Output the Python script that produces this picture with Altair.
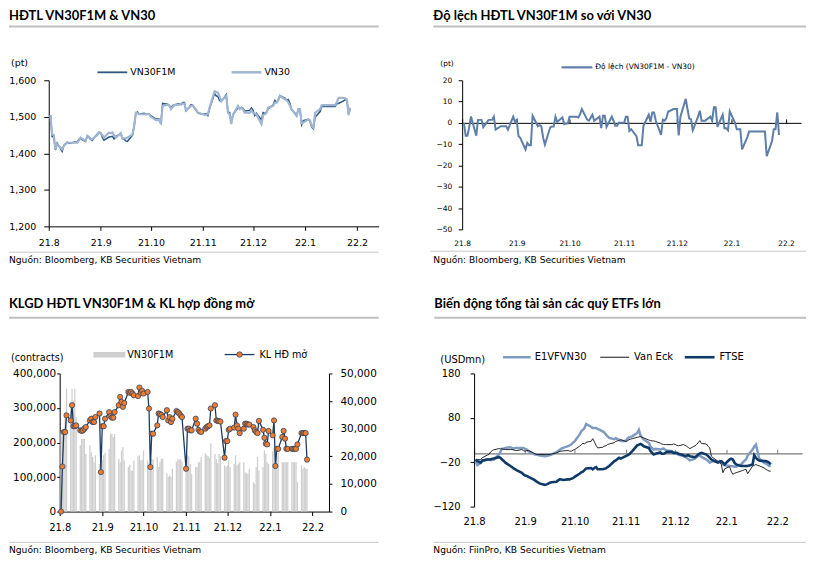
import altair as alt
import pandas as pd

FONT = "DejaVu Sans"
TFONT = "Lato"

# trading days Aug 2, 2021 .. Jan 28, 2022
DATES = pd.bdate_range("2021-08-02", "2022-01-28").strftime("%Y-%m-%d").tolist()

VN30 = [
    1505, 1452, 1450, 1411, 1425, 1411, 1420, 1425, 1429, 1429,
    1429, 1430, 1429, 1435, 1443, 1434, 1448, 1445, 1440, 1439,
    1450, 1457, 1455, 1450, 1443, 1457, 1455, 1457, 1450, 1443,
    1455, 1441, 1441, 1441, 1443, 1452, 1475, 1511, 1510, 1507,
    1507, 1507, 1507, 1507, 1500, 1491, 1491, 1491, 1480, 1530,
    1533, 1530, 1521, 1527, 1532, 1533, 1536, 1536, 1536, 1518,
    1530, 1530, 1525, 1520, 1511, 1507, 1505, 1506, 1507, 1525,
    1570, 1568, 1566, 1555, 1543, 1557, 1511, 1507, 1480, 1505,
    1530, 1521, 1525, 1521, 1511, 1511, 1518, 1511, 1509, 1507,
    1480, 1505, 1507, 1511, 1525, 1530, 1539, 1539, 1545, 1557,
    1548, 1545, 1540, 1530, 1521, 1502, 1521, 1521, 1482, 1484,
    1493, 1490, 1475, 1470, 1511, 1521, 1532, 1532, 1532, 1532,
    1532, 1532, 1532, 1540, 1552, 1552, 1550, 1548, 1505, 1525]

VN30F1M = [
    1505, 1446, 1444, 1409, 1428, 1405, 1421.4, 1426.4, 1430.4, 1427,
    1430.4, 1431.4, 1430.4, 1437.9, 1439.8, 1432.4, 1446.4, 1443.4, 1438.4, 1435.8,
    1452.9, 1457.5, 1456.4, 1443.8, 1436, 1444.5, 1445.6, 1446.5, 1439.5, 1446.3,
    1453.4, 1439.9, 1439.4, 1434, 1432.8, 1449.8, 1473.3, 1509.3, 1512.9, 1507.5,
    1509.5, 1506.4, 1506.7, 1506.7, 1502.9, 1493.9, 1493.9, 1493.5, 1484, 1536.5,
    1534.5, 1531, 1523.4, 1530.8, 1533, 1535.9, 1533.5, 1539.3, 1539.3, 1516.1,
    1532.9, 1531, 1523.6, 1518.6, 1511, 1507, 1507.9, 1508.9, 1503.2, 1522,
    1563.8, 1557.5, 1555.5, 1544.5, 1541.6, 1560.8, 1511.5, 1511.9, 1484.9, 1506,
    1524.3, 1522.4, 1526, 1523.2, 1516.2, 1517.5, 1524.5, 1517.5, 1503.1, 1509.9,
    1491.3, 1511.5, 1509, 1512.7, 1521.5, 1532.9, 1544.7, 1540, 1546, 1558,
    1550.9, 1546, 1547.3, 1537.3, 1519.1, 1505.8, 1518.5, 1518.5, 1478.5, 1489.4,
    1493, 1487, 1472, 1467, 1498.5, 1514.3, 1527.9, 1527.9, 1527.9, 1527.9,
    1527.9, 1527.9, 1527.9, 1535.9, 1536.3, 1543.4, 1547, 1545, 1509.9, 1519.3]

DIFF = [
    0, -6, -6, -2, 3, -6, 1.4, 1.4, 1.4, -2,
    1.4, 1.4, 1.4, 2.9, -3.2, -1.6, -1.6, -1.6, -1.6, -3.2,
    2.9, 0.5, 1.4, -6.2, -7, -12.5, -9.4, -10.5, -10.5, 3.3,
    -1.6, -1.1, -1.6, -7, -10.2, -2.2, -1.7, -1.7, 2.9, 0.5,
    2.5, -0.6, -0.3, -0.3, 2.9, 2.9, 2.9, 2.5, 4, 6.5,
    1.5, 1, 2.4, 3.8, 1, 2.9, -2.5, 3.3, 3.3, -1.9,
    2.9, 1, -1.4, -1.4, 0, 0, 2.9, 2.9, -3.8, -3,
    -6.2, -10.5, -10.5, -10.5, -1.4, 3.8, 0.5, 4.9, 4.9, 1,
    -5.7, 1.4, 1, 2.2, 5.2, 6.5, 6.5, 6.5, -5.9, 2.9,
    11.3, 6.5, 2, 1.7, -3.5, 2.9, 5.7, 1, 1, 1,
    2.9, 1, 7.3, 7.3, -1.9, 3.8, -2.5, -2.5, -3.5, 5.4,
    0, -3, -3, -3, -12.5, -6.7, -4.1, -4.1, -4.1, -4.1,
    -4.1, -4.1, -4.1, -4.1, -15.7, -8.6, -3, -3, 4.9, -5.7]

VOLUME = [
    230000, 225000, 230000, 290000, 356000, 300000, 356000, 322000, 356000, 274000,
    192000, 211000, 211000, 211000, 167000, 192000, 172000, 158000, 143000, 163000,
    138000, 148000, 150000, 163000, 170000, 182000, 225000, 225000, 216000, 225000,
    153000, 143000, 177000, 187000, 148000, 129000, 135000, 119000, 119000, 148000,
    160000, 163000, 148000, 150000, 177000, 148000, 140000, 129000, 153000, 150000,
    158000, 129000, 143000, 153000, 153000, 110000, 100000, 105000, 100000, 124000,
    145000, 153000, 150000, 152000, 145000, 129000, 163000, 160000, 138000, 109000,
    129000, 129000, 143000, 143000, 158000, 169000, 163000, 160000, 155000, 198000,
    167000, 153000, 140000, 167000, 160000, 134000, 130000, 134000, 148000, 129000,
    138000, 163000, 134000, 138000, 143000, 143000, 114000, 110000, 110000, 124000,
    85000, 80000, 129000, 158000, 119000, 129000, 177000, 167000, 143000, 138000,
    175000, 180000, 140000, 160000, 170000, 143000, 143000, 143000, 143000, 143000,
    143000, 143000, 143000, 143000, 85000, 134000, 124000, 129000, 124000, 124000]

OPEN_INTEREST = [
    0, 16300, 28800, 28800, 34800, 33000, 38500, 30900, 30900, 31200,
    29400, 29200, 29400, 30000, 30600, 33000, 33600, 32400, 32400, 34200,
    35500, 14300, 30900, 30900, 33600, 36000, 34500, 34000, 34000, 36000,
    38500, 41500, 39700, 37900, 39300, 43300, 43000, 43300, 42700, 42100,
    41800, 44900, 43000, 43700, 42700, 43300, 37300, 16100, 28200, 28200,
    31200, 35500, 35300, 35000, 34200, 36700, 33000, 34200, 32400, 33600,
    36400, 36000, 35500, 34800, 34200, 15500, 30000, 30000, 29400, 29400,
    33600, 31800, 29600, 29000, 28800, 30000, 30600, 30900, 31200, 37300,
    38500, 33000, 32800, 32700, 32600, 19500, 25500, 25500, 29600, 30000,
    30400, 35100, 31200, 30000, 28400, 30000, 31800, 31800, 31500, 31500,
    30600, 29400, 28800, 28400, 32800, 29600, 26700, 24600, 24300, 29200,
    27600, 33000, 16500, 22700, 22700, 27000, 29200, 26400, 22700, 22700,
    22700, 22700, 22700, 22700, 24300, 28400, 28400, 28400, 28400, 18800]

E1VFVN30 = [
    -18, -26.5, -24, -21, -18, -14, -14, -15, -15, -14,
    -2.7, 3, 10.7, 11, 12.2, 13.7, 12, 10.7, 12, 12.2,
    12.2, 12, 10, 8.5, 4.8, -1, -2.7, -2.7, -4, -5,
    -6.4, -6, -5, -4, -2.7, 3, 4.8, 8, 10.7, 12.2,
    16, 18, 19.7, 24, 27, 42, 49.5, 53, 57, 66,
    60, 57, 57, 57, 55, 49.5, 47, 42, 38, 34.6,
    32, 34, 32, 30.8, 28, 28, 33, 36, 37, 38.3,
    45.8, 53, 40.5, 35, 30.8, 23.4, 16, 12, 8.5, 10,
    8.5, 10, 10.7, 8, 6.3, 5, 1, 0, -1, -2.7,
    -6.4, -8, -10, -13, -16, -12, -8.7, -6, -5, -8,
    -14, -17, -21, -19, -17.6, -20, -17.6, -21, -25, -27,
    -28.6, -28.6, -29, -30, -30, -25, -21, -17, -14, -5,
    8.5, 15, 19.7, 4.8, -11.8, -21, -23, -25, -28.6, -28.6]

VAN_ECK = [
    -14, -14, -14, -14, -10, -4, -2.7, 3, 6.3, 8,
    10.7, 10, 10, 9, 8.5, 8.5, 8.5, 7.5, 6.3, 6.3,
    8.5, 6, 4.8, 6.3, 6.3, 1, -1, -2.7, -2.7, -2.7,
    -2.7, -2.7, -2.7, -2.7, -1.5, 1, 2.5, 4.8, 4.8, 5.5,
    6.3, 5, 4.8, 7, 8.5, 16, 19, 23, 21, 25,
    27, 33, 26, 18, 12.2, 13.7, 16, 17, 19.7, 21,
    24, 27, 28, 29, 30.8, 27, 28, 30.8, 32, 33,
    36, 37, 38, 36, 34.6, 30, 29, 28, 28, 27,
    23, 21, 20, 19.7, 19.7, 19.7, 21, 20, 18, 17,
    19.7, 18, 16, 13, 10.7, 17, 19.7, 24, 28.6, 22,
    21, 16, 12.2, -6.4, -10, -17.6, -20, -25, -43.6, -35,
    -30, -40, -47.4, -45, -43.6, -40, -38.5, -37, -36, -46,
    -28.6, -27, -25, -27, -28, -33, -36, -38, -40, -40]

FTSE = [
    -14, -17.6, -19, -21, -16, -14, -14, -14, -12, -11.8,
    -8.7, -10, -14, -17, -21, -28.6, -31, -34, -36, -38.5,
    -44, -47.4, -50, -51, -53, -58.6, -61, -64, -66, -68.3,
    -71, -70, -68, -66, -65, -64, -61, -58.6, -59, -60,
    -58.6, -58.6, -57, -56, -53, -46, -43, -41.5, -38, -34,
    -33, -36, -33, -31, -36, -36, -35, -34, -31, -28.6,
    -18, -16, -13, -10, -12, -6.4, -4.5, -2.7, 1, 4.8,
    18, 19.7, 21, 19, 16, 12.2, 6, 1, -2.7, -1,
    2, -1, -1, 1, 3.3, 3.3, 1, 1, 1, -1,
    -4.2, -6.4, -5, -4.2, -6.4, -8.7, -6, -2.7, 0, 1,
    -2.7, -6.4, -10, -14, -16, -21, -19, -17.6, -21, -25,
    -14, -12, -14, -21, -25, -28.6, -28.6, -28.6, -28.6, -28.6,
    -25, -4.2, -10, -14, -16, -17.6, -17.6, -19, -21, -25]

MONTH_STARTS = ["2021-08-01", "2021-09-01", "2021-10-01", "2021-11-01",
                "2021-12-01", "2022-01-01", "2022-02-01"]

df = pd.DataFrame({
    "date": DATES, "vn30": VN30, "f1m": VN30F1M, "diff": DIFF,
    "vol": VOLUME, "oi": OPEN_INTEREST,
    "e1": E1VFVN30, "ve": VAN_ECK, "ftse": FTSE,
})
ticks_df = pd.DataFrame({"date": MONTH_STARTS})
ONE = pd.DataFrame({"k": [0]})


def dt(y, m, d, h=0):
    return alt.DateTime(year=y, month=m, date=d, hours=h, utc=True)


MONTHS = [dt(2021, 8, 1), dt(2021, 9, 1), dt(2021, 10, 1), dt(2021, 11, 1),
          dt(2021, 12, 1), dt(2022, 1, 1), dt(2022, 2, 1)]


def xscale(end, rng=None):
    if rng is None:
        return alt.Scale(type="utc", domain=[dt(2021, 8, 1), end], padding=0)
    return alt.Scale(type="utc", domain=[dt(2021, 8, 1), end], range=rng, padding=0)


def txt(s, x, y, size, font=FONT, weight="normal", baseline="middle"):
    return alt.Chart(ONE).mark_text(
        text=s, align="left", baseline=baseline, font=font, fontSize=size,
        fontWeight=weight, color="#000"
    ).encode(x=alt.value(x), y=alt.value(y))


def hline(x1, x2, y, color, w):
    return alt.Chart(ONE).mark_rule(color=color, strokeWidth=w).encode(
        x=alt.value(x1), x2=alt.value(x2), y=alt.value(y))


def xaxis(size, pad, domain=True, ticks=True, tick=4):
    return alt.Axis(values=MONTHS, format="%y.%-m", labelFontSize=size,
                    labelPadding=pad, domain=domain, ticks=ticks, tickSize=tick,
                    labelFlush=False, labelOverlap=False)


C_F1M = "#2a5783"
C_VN30 = "#9fb5d2"
C_DIFF = "#5d7ea8"
C_BAR = "#cfcfcf"
C_OI = "#1c3b63"
C_DOT = "#ed7d31"
C_E1 = "#7f9bc2"
C_VE = "#111111"
C_FT = "#0f3a68"
C_UL = "#bfbfbf"
C_SRC = "#c8c8c8"
NUM = ",.0f"

# ---------------- Panel A ----------------
scA = xscale(dt(2022, 2, 14))
xA = alt.X("date:T", scale=scA, axis=xaxis(9.5, 7), title=None)
ysA = alt.Scale(domain=[1200, 1600], zero=False, nice=False)
yaxA = alt.Axis(values=[1200, 1300, 1400, 1500, 1600], format=NUM,
                labelFontSize=9.5, tickSize=5, labelPadding=8)
lineF = alt.Chart(df).mark_line(color=C_F1M, strokeWidth=1.5).encode(
    x=xA, y=alt.Y("f1m:Q", scale=ysA, axis=yaxA, title=None))
lineV = alt.Chart(df).mark_line(color=C_VN30, strokeWidth=2.2).encode(
    x=xA, y=alt.Y("vn30:Q", scale=ysA, axis=yaxA, title=None))
panelA = alt.layer(
    lineF, lineV,
    txt("HĐTL VN30F1M & VN30", -40, -71, 13, TFONT, "bold", "top"),
    hline(-40, 332, -54, C_UL, 2),
    txt("(pt)", -38, -17, 9.5),
    hline(49, 79, -8, C_F1M, 1.8), txt("VN30F1M", 82, -8, 9.5),
    hline(184, 214, -8, C_VN30, 2.5), txt("VN30", 217, -8, 9.5),
    hline(-40, 332, 173, C_SRC, 1),
    txt("Nguồn: Bloomberg, KB Securities Vietnam", -40, 181, 9.2),
).properties(width=332, height=147)

# ---------------- Panel B ----------------
scB = xscale(dt(2022, 2, 9, 12))
lineB = alt.Chart(df).mark_line(color=C_DIFF, strokeWidth=2).encode(
    x=alt.X("date:T", scale=scB, axis=xaxis(7.5, 10, domain=False, ticks=False), title=None),
    y=alt.Y("diff:Q", scale=alt.Scale(domain=[-50, 20], zero=False, nice=False),
            axis=alt.Axis(values=[-50, -40, -30, -20, -10, 0, 10, 20],
                          labelFontSize=7.5, tickSize=4, labelPadding=6.5),
            title=None))
zeroB = alt.Chart(ticks_df).mark_rule(opacity=0).encode(
    x=alt.X("date:T", scale=scB,
            axis=alt.Axis(orient="top", offset=-150 * 20 / 70, values=MONTHS,
                          labels=False, tickSize=4),
            title=None))
panelB = alt.layer(
    lineB, zeroB,
    txt("Độ lệch HĐTL VN30F1M so với VN30", -29, -71, 13, TFONT, "bold", "top"),
    hline(-29, 346, -54, C_UL, 2),
    txt("(pt)", -22, -16, 7.5),
    hline(100, 131, -13, C_DIFF, 2.2),
    txt("Độ lệch (VN30F1M - VN30)", 134, -13, 7.5),
    hline(-32, 346, 172, C_SRC, 1),
    txt("Nguồn: Bloomberg, KB Securities Vietnam", -29, 181, 9.2),
).resolve_axis(x="independent").properties(width=341, height=150)

# ---------------- Panel C ----------------
scC = xscale(dt(2022, 2, 13), rng=[11, 282])
xC = alt.X("date:T", scale=scC, axis=xaxis(10, 7), title=None)
bars = alt.Chart(df).mark_bar(color=C_BAR, size=1.3).encode(
    x=xC,
    y=alt.Y("vol:Q", scale=alt.Scale(domain=[0, 400000], nice=False),
            axis=alt.Axis(values=[0, 100000, 200000, 300000, 400000], format=NUM,
                          orient="left", offset=-11, labelFontSize=10.5,
                          tickSize=3, labelPadding=1),
            title=None))
yOI = alt.Y("oi:Q", scale=alt.Scale(domain=[0, 50000], nice=False),
            axis=alt.Axis(values=[0, 10000, 20000, 30000, 40000, 50000], format=NUM,
                          orient="right", labelFontSize=10.5, tickSize=3,
                          labelPadding=8),
            title=None)
oiLine = alt.Chart(df).mark_line(color=C_OI, strokeWidth=1.3).encode(x=xC, y=yOI)
oiPts = alt.Chart(df).mark_circle(size=28, color=C_DOT, stroke=C_OI,
                                  strokeWidth=0.7, opacity=1).encode(x=xC, y=yOI)
oi = alt.layer(oiLine, oiPts)
panelC = alt.layer(
    bars, oi,
    txt("KLGD HĐTL VN30F1M & KL hợp đồng mở", -40, -75.5, 13, TFONT, "bold", "top"),
    hline(-40, 332, -56, C_UL, 2),
    txt("(contracts)", -38, -16, 9.7),
    alt.Chart(ONE).mark_rect(color=C_BAR).encode(
        x=alt.value(45), x2=alt.value(77), y=alt.value(-21.5), y2=alt.value(-16)),
    txt("VN30F1M", 79, -19, 9.7),
    hline(177, 207, -19, C_OI, 1.3),
    alt.Chart(ONE).mark_circle(size=30, color=C_DOT, stroke=C_OI, strokeWidth=0.7,
                               opacity=1).encode(x=alt.value(192), y=alt.value(-19)),
    txt("KL HĐ mở", 212, -19, 9.7),
    hline(-40, 332, 170, C_SRC, 1),
    txt("Nguồn: Bloomberg, KB Securities Vietnam", -40, 178, 9.2),
).resolve_scale(y="independent").properties(width=282, height=139)

# ---------------- Panel D ----------------
scD = xscale(dt(2022, 2, 16), rng=[12, 342])
xD = alt.X("date:T", scale=scD, axis=xaxis(10, 9.7, domain=False, ticks=False), title=None)
ysD = alt.Scale(domain=[-120, 180], zero=False, nice=False)
yaxD = alt.Axis(values=[-120, -20, 80, 180], labelFontSize=10, tickSize=4,
                labelPadding=10, offset=-12)
e1 = alt.Chart(df).mark_line(color=C_E1, strokeWidth=2.5).encode(
    x=xD, y=alt.Y("e1:Q", scale=ysD, axis=yaxD, title=None))
ve = alt.Chart(df).mark_line(color=C_VE, strokeWidth=0.9).encode(
    x=xD, y=alt.Y("ve:Q", scale=ysD, axis=yaxD, title=None))
ft = alt.Chart(df).mark_line(color=C_FT, strokeWidth=2.6).encode(
    x=xD, y=alt.Y("ftse:Q", scale=ysD, axis=yaxD, title=None))
linesD = alt.layer(e1, ve, ft)
zeroD = alt.Chart(ticks_df).mark_rule(opacity=0).encode(
    x=alt.X("date:T", scale=scD,
            axis=alt.Axis(orient="top", offset=-134 * 180 / 300, values=MONTHS,
                          labels=False, tickSize=4, domainColor="#7a7a7a",
                          tickColor="#7a7a7a", domainWidth=1.3),
            title=None))
panelD = alt.layer(
    linesD, zeroD,
    txt("Biến động tổng tài sản các quỹ ETFs lớn", -28, -75.5, 13, TFONT, "bold", "top"),
    hline(-28, 346, -56, C_UL, 2),
    txt("(USDmn)", -22, -14, 10),
    hline(41, 69, -16.3, C_E1, 2.5), txt("E1VFVN30", 73, -16.3, 10),
    hline(139, 168, -16.3, C_VE, 1), txt("Van Eck", 173, -16.3, 10),
    hline(224, 254, -16.3, C_FT, 2.6), txt("FTSE", 259, -16.3, 10),
    hline(-29, 346, 170, C_SRC, 1),
    txt("Nguồn: FiinPro, KB Securities Vietnam", -29, 178, 9.2),
).resolve_axis(x="independent").properties(width=342, height=134)

chart = alt.concat(
    panelA, panelB, panelC, panelD,
    columns=2, spacing={"row": 145, "column": 84}, bounds="flush",
).properties(padding=0, background="white").configure_axis(
    labelFont=FONT, labelColor="#000", domainColor="#000", tickColor="#000",
    grid=False, domainWidth=1, tickWidth=1,
).configure_view(strokeWidth=0)

chart.save("out.html", embed_options={"renderer": "svg", "actions": False})
